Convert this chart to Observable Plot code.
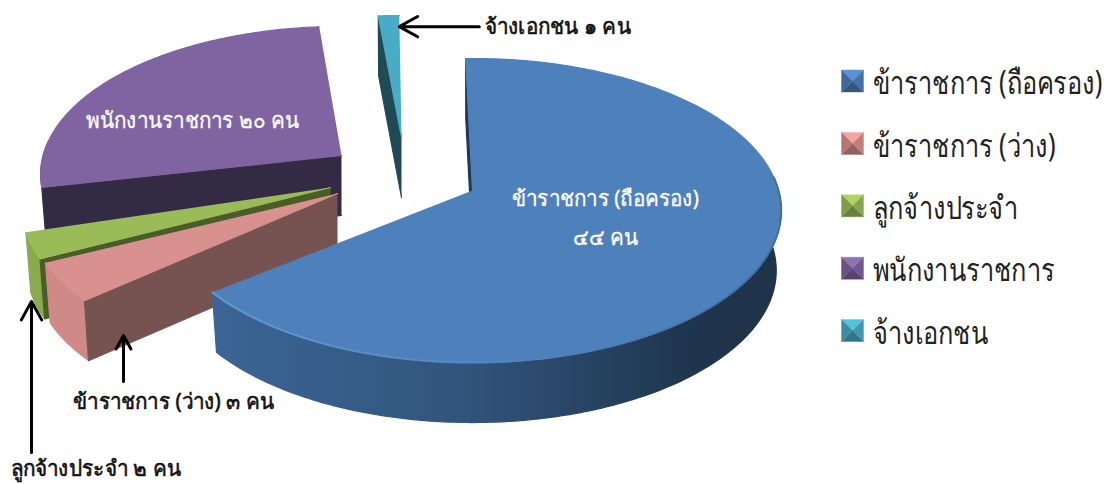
<!DOCTYPE html>
<html lang="th">
<head>
<meta charset="utf-8">
<script src="https://cdn.jsdelivr.net/npm/d3@7"></script>
<script src="https://cdn.jsdelivr.net/npm/@observablehq/plot@0.6"></script>
<style>
  html, body { margin: 0; background: #fff; }
  svg { display: block; }
</style>
</head>
<body>
<div id="chart"></div>
<script>
// Staff head-counts by employment type
const categories = ["ข้าราชการ (ถือครอง)", "ข้าราชการ (ว่าง)", "ลูกจ้างประจำ", "พนักงานราชการ", "จ้างเอกชน"];
const headcount = [44, 3, 2, 20, 1];
const topColors = ["#4e80bc", "#d8918e", "#9bbb59", "#8063a1", "#49abc6"];
const wallColors = ["url(#blueWall)", "#cf8a87", "#8ba94f", "#725994", "#2f6f80"];
const cutColors = ["#1f3a57", "#765350", "#4a5c28", "#332a43", "#1f4a56"];

// Where each wedge is pulled out to, its turn and reach, and the draw order (back to front)
const apex = [[472, 190], [337, 193], [330, 187], [341, 155], [401, 137]];
const spin = [-1.45, -3.65, -4.45, 0, -0.5];
const reach = [1, 1, 1, 0.975, 0.915];
const drawOrder = [3, 4, 2, 1, 0];

// Tilted-disc projection: near edge larger, lower rim pulled slightly inward
const R = 306, Ry = 149.4, k = 0.1316, depth = 60;
const total = d3.sum(headcount);
const ends = d3.cumsum(headcount).map((c) => (c / total) * 360);
const starts = ends.map((e, i) => e - (headcount[i] / total) * 360);
const turn = (deg) => deg + 7 * Math.sin((deg / 2) * (Math.PI / 180));

function project(i, angle, r, z = 0) {
  const a = ((turn(angle) + spin[i]) * Math.PI) / 180;
  const X = r * reach[i] * Math.sin(a), Y = r * reach[i] * Math.cos(a);
  const s = 1 / (1 + k * Y);
  const shrink = 1 - 0.016 * z;
  return {x: apex[i][0] + R * X * s * shrink, y: apex[i][1] - Ry * Y * s + depth * z, forward: Y < 0.1};
}
function arc(i, z, from = starts[i], to = ends[i]) {
  const n = Math.max(2, Math.ceil(Math.abs(to - from)));
  return d3.range(n + 1).map((j) => project(i, from + ((to - from) * j) / n, 1, z));
}
const topFace = (i) => [project(i, 0, 0), ...arc(i, 0)];
const nearArc = (i, z) => arc(i, z).filter((p) => p.forward);
const wall = (i) => [...nearArc(i, 0), ...nearArc(i, 1).reverse()];
const cut = (i, angle) => [project(i, 0, 0), project(i, angle, 1), project(i, angle, 1, 1), project(i, 0, 0, 1)];

const shape = (points, color) =>
  Plot.line(points, {x: "x", y: "y", fill: color, stroke: color, strokeWidth: 1.2, strokeLinejoin: "round", curve: "linear"});

// Only the cut at a wedge's starting angle faces the viewer
const wedges = drawOrder.flatMap((i) => [
  shape(wall(i), wallColors[i]),
  shape(cut(i, starts[i]), cutColors[i]),
  shape(topFace(i), topColors[i])
]);

// Callouts hang off each wedge's outer mid-point
const outerMid = (i) => project(i, (starts[i] + ends[i]) / 2, 1);
const callouts = [
  {slice: 4, tip: [10.5, 11], tail: [90.5, 11]},
  {slice: 1, tip: [61.4, 53.4], tail: [61.4, 99.4]},
  {slice: 2, tip: [-0.2, 55.8], tail: [-0.2, 206.8]}
].map(({slice, tip, tail}) => {
  const o = outerMid(slice);
  return {x1: o.x + tail[0], y1: o.y + tail[1], x2: o.x + tip[0], y2: o.y + tip[1]};
});

const onSliceLabels = [
  {text: "ข้าราชการ (ถือครอง)", x: 605, y: 198},
  {text: "๔๔ คน", x: 605, y: 237},
  {text: "พนักงานราชการ ๒๐ คน", x: 192, y: 120}
];
const centredLabels = [{text: "ข้าราชการ (ว่าง) ๓ คน", x: 173, y: 401}];
const leftLabels = [
  {text: "จ้างเอกชน ๑ คน", x: 484, y: 26},
  {text: "ลูกจ้างประจำ ๒ คน", x: 10, y: 468}
];

// Legend rows with a four-faced pyramid key
const legendRows = categories.map((name, i) => ({name, y: 80.5 + i * 62.4, color: topColors[i]}));
const keySize = 11;
const keyFaces = legendRows.flatMap((row) => {
  const x = 852, y = row.y, h = keySize;
  const c = d3.color(row.color);
  const corners = [[x - h, y - h], [x + h, y - h], [x + h, y + h], [x - h, y + h]];
  const shades = [c.brighter(0.35), c.darker(0.35), c.darker(1.1), c.darker(0.55)];
  return corners.map((corner, f) => {
    const next = corners[(f + 1) % 4];
    return {points: [{x: corner[0], y: corner[1]}, {x: next[0], y: next[1]}, {x, y}], fill: shades[f].formatHex()};
  });
});
const keyMarks = keyFaces.map((f) => Plot.line(f.points, {x: "x", y: "y", fill: f.fill, stroke: f.fill, strokeWidth: 0.4}));

const defs = () => {
  const d = d3.create("svg:defs");
  const ramp = (id, stops) => {
    const g = d.append("linearGradient").attr("id", id).attr("gradientUnits", "userSpaceOnUse")
      .attr("x1", 212).attr("x2", 780).attr("y1", 0).attr("y2", 0);
    stops.forEach(([o, c]) => g.append("stop").attr("offset", o).attr("stop-color", c));
  };
  ramp("blueWall", [[0, "#3c6595"], [0.45, "#31547c"], [0.7, "#25415f"], [0.85, "#1f344d"], [1, "#1f3349"]]);
  ramp("blueRim", [[0, "#6a9bd6"], [0.5, "#5587c4"], [0.8, "#4a78ae"], [1, "#3f6a9d"]]);
  return d.node();
};

const chart = Plot.plot({
  width: 1116,
  height: 484,
  margin: 0,
  x: {domain: [0, 1116], range: [0, 1116], axis: null},
  y: {domain: [0, 484], range: [0, 484], axis: null},
  marks: [
    defs,
    ...wedges,
    Plot.line(nearArc(0, 0), {x: "x", y: "y", stroke: "url(#blueRim)", strokeWidth: 2, strokeOpacity: 0.85}),
    Plot.arrow(callouts, {x1: "x1", y1: "y1", x2: "x2", y2: "y2", bend: 0, stroke: "#000", strokeWidth: 3, headLength: 10.5, headAngle: 58}),
    Plot.text(onSliceLabels, {x: "x", y: "y", text: "text", fill: "#fff", stroke: "#fff", strokeWidth: 0.3, textAnchor: "middle", fontSize: 22}),
    Plot.text(centredLabels, {x: "x", y: "y", text: "text", fill: "#111", stroke: "#111", strokeWidth: 0.6, textAnchor: "middle", fontSize: 22}),
    Plot.text(leftLabels, {x: "x", y: "y", text: "text", fill: "#111", stroke: "#111", strokeWidth: 0.6, textAnchor: "start", fontSize: 22}),
    ...keyMarks,
    Plot.text(legendRows, {x: 872, y: (d) => d.y + 3, text: "name", textAnchor: "start", fontSize: 32, fill: "#222"})
  ],
  style: {fontFamily: "'Noto Sans', 'DejaVu Sans', sans-serif", background: "#fff"}
});
document.getElementById("chart").append(chart);

// The labels use a narrow, tall Thai face, so condense the glyphs horizontally
const condense = (size, factor) =>
  d3.select(chart).selectAll(`g[font-size="${size}"] text`).each(function () {
    d3.select(this).attr("textLength", this.getComputedTextLength() * factor).attr("lengthAdjust", "spacingAndGlyphs");
  });
condense(32, 0.794);
condense(22, 0.94);
</script>
</body>
</html>
